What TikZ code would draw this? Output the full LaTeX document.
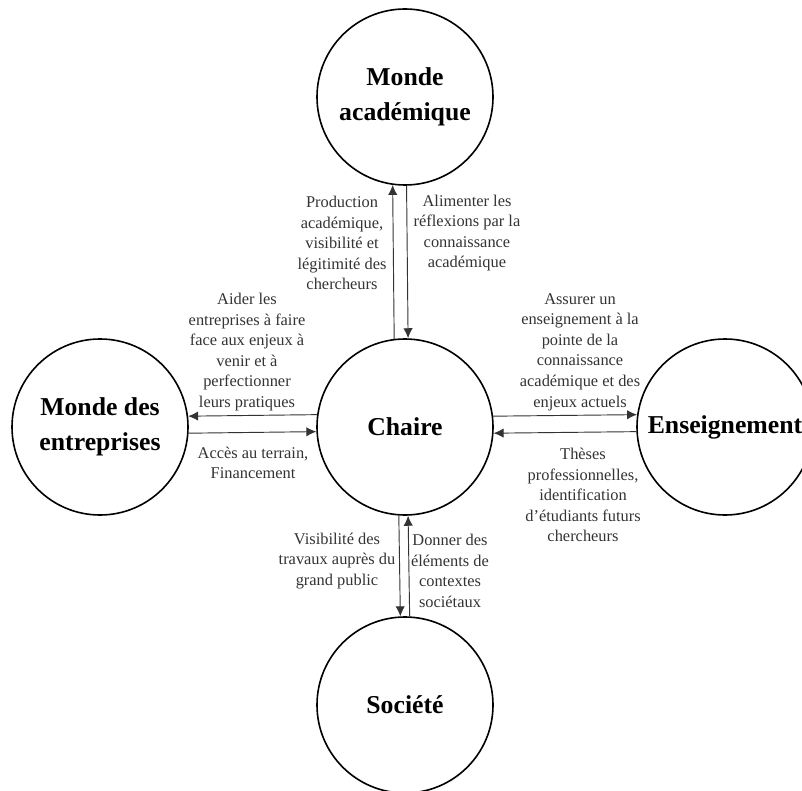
\documentclass[tikz,border=0pt]{standalone}
\usepackage{fontspec}
\setmainfont{Liberation Serif}
\usetikzlibrary{arrows.meta}

\begin{document}
\begin{tikzpicture}[x=0.75pt, y=-0.75pt, >={Latex[length=7.5pt,width=7pt]},
    pole/.style={circle, draw, line width=1.2pt, minimum size=132pt, inner sep=0pt,
        align=center, font=\fontsize{19.3}{26}\selectfont\bfseries},
    flow/.style={->, line width=0.7pt, black!80},
    note/.style={align=center, text=black!80, font=\fontsize{12.3}{15.4}\selectfont}
]

\useasboundingbox (0,0) rectangle (802,791);

% The five poles
\node[pole] (acad) at (405, 97) {Monde\\académique};
\node[pole] (chaire) at (405, 427) {Chaire};
\node[pole] (entr) at (100, 427) {Monde des\\entreprises};
\node[pole] (ens) at (725, 427) {Enseignement};
\node[pole] (soc) at (405, 705) {Société};

% Exchanges with the academic world
\draw[flow] (chaire.97.8) -- (acad.262.2);
\draw[flow] (acad.271.3) -- (chaire.88.7);
\node[note] at (342, 243) {Production\\académique,\\visibilité et\\légitimité des\\chercheurs};
\node[note] at (467, 233) {Alimenter les\\réflexions par la\\connaissance\\académique};

% Exchanges with companies
\draw[flow] (chaire.172.2) -- (entr.7.8);
\draw[flow] (entr.356.1) -- (chaire.183.9);
\node[note] at (247, 352) {Aider les\\entreprises à faire\\face aux enjeux à\\venir et à\\perfectionner\\leurs pratiques};
\node[note] at (253, 463) {Accès au terrain,\\Financement};

% Exchanges with teaching
\draw[flow] (chaire.7.8) -- (ens.172.2);
\draw[flow] (ens.183.9) -- (chaire.356.1);
\node[note] at (580, 352) {Assurer un\\enseignement à la\\pointe de la\\connaissance\\académique et des\\enjeux actuels};
\node[note] at (583, 495) {Thèses\\professionnelles,\\identification\\d'étudiants futurs\\chercheurs};

% Exchanges with society
\draw[flow] (chaire.266.7) -- (soc.93.3);
\draw[flow] (soc.87.4) -- (chaire.272.6);
\node[note] at (337, 561) {Visibilité des\\travaux auprès du\\grand public};
\node[note] at (450, 571) {Donner des\\éléments de\\contextes\\sociétaux};

\end{tikzpicture}
\end{document}
